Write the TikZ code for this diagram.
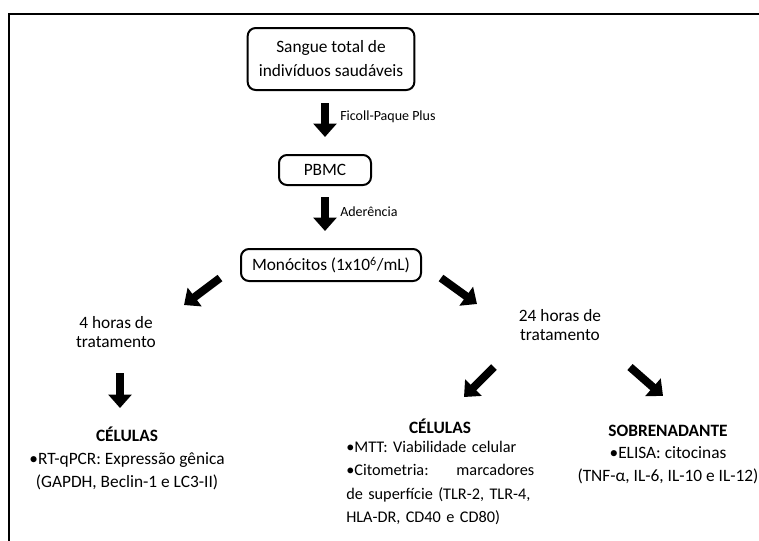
\documentclass[tikz,border=0pt]{standalone}
\usepackage{fontspec}
\setmainfont{Carlito}
\usetikzlibrary{arrows.meta}

\tikzset{
  stage/.style={draw, line width=1.5pt, rounded corners=6pt, inner sep=0pt,
    align=center, font=\fontsize{13}{18}\selectfont},
  fatarrow/.style={line width=6pt, -{Triangle[width=17pt,length=10pt]}},
  note/.style={anchor=west, inner sep=0pt, font=\fontsize{10.5}{12}\selectfont},
  txt/.style={align=center, font=\fontsize{13}{14.3}\selectfont},
  body/.style={align=center, font=\fontsize{13}{17}\selectfont},
}

\begin{document}
\begin{tikzpicture}[x=0.75pt, y=-0.75pt]
  \clip (0,0) rectangle (759,540);
  \useasboundingbox (0,0) rectangle (759,540);

  % outer frame
  \draw[line width=1.5pt] (9,560) -- (9,14) -- (780,14);

  % boxes
  \node[stage, minimum width=125pt, minimum height=46.5pt] (sangue) at (331,59)
    {Sangue total de\\indivíduos saudáveis};
  \node[stage, minimum width=69pt, minimum height=22.5pt] (pbmc) at (325,170) {PBMC};
  \node[stage, minimum width=135pt, minimum height=24pt] (mono) at (331,265)
    {Monócitos (1x10\textsuperscript{6}/mL)};

  % arrow ends
  \coordinate (a1) at (325,103);
  \coordinate (b1) at (325,137);
  \coordinate (a2) at (325,197);
  \coordinate (b2) at (325,231);
  \coordinate (a3) at (220,278);
  \coordinate (b3) at (184,305);
  \coordinate (a4) at (441,278);
  \coordinate (b4) at (477,304);
  \coordinate (a5) at (120,373);
  \coordinate (b5) at (120,408);
  \coordinate (a6) at (494,367);
  \coordinate (b6) at (464,397);
  \coordinate (a7) at (630,367);
  \coordinate (b7) at (663,396);

  \foreach \s in {1,...,7} \draw[fatarrow] (a\s) -- (b\s);

  \node[note] (ficoll) at (340,117) {Ficoll-Paque Plus};
  \node[note] (ader) at (340,212) {Aderência};

  % branches
  \node[txt] (h4) at (116,332) {4 horas de\\tratamento};
  \node[txt] (h24) at (560,325) {24 horas de\\tratamento};

  \node[body] (cel4) at (127,458.5)
    {\textbf{CÉLULAS}\\•RT-qPCR: Expressão gênica\\(GAPDH, Beclin-1 e LC3-II)};

  \node[font=\fontsize{13}{14}\selectfont\bfseries] (cel24) at (440,426) {CÉLULAS};
  \node[anchor=west, inner sep=0pt, text width=141pt, align=left,
    font=\fontsize{12.2}{17.5}\selectfont] (cel24txt) at (346,483)
    {•MTT: Viabilidade celular\\•Citometria:\hfill marcadores\\\mbox{de superfície (TLR-2, TLR-4,}\\HLA-DR, CD40 e CD80)};

  \node[body] (sob) at (668,454.5)
    {\textbf{SOBRENADANTE}\\•ELISA: citocinas\\(TNF-α, IL-6, IL-10 e IL-12)};
\end{tikzpicture}
\end{document}
